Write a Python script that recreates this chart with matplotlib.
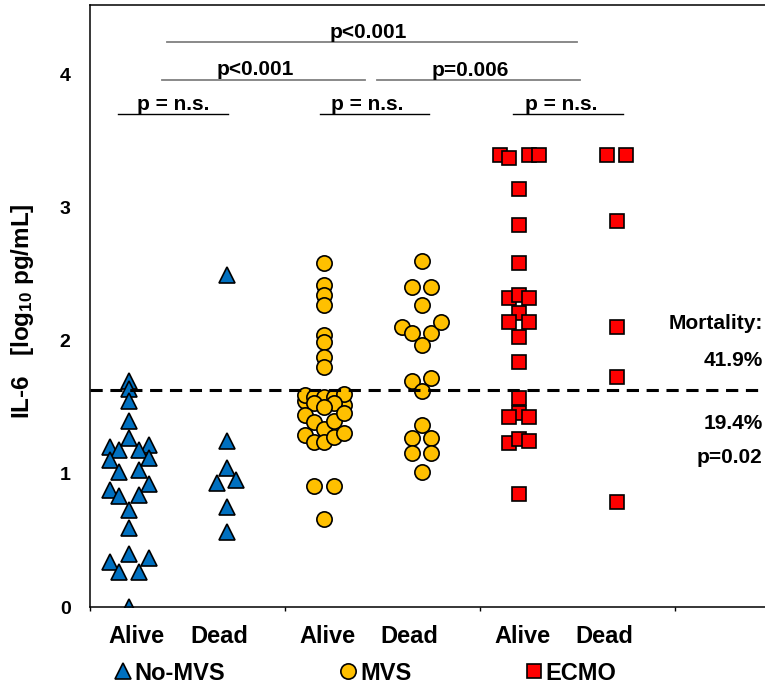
import matplotlib
matplotlib.use("Agg")
import matplotlib.pyplot as plt
from matplotlib.lines import Line2D
import numpy as np

plt.rcParams['font.family'] = ['Liberation Sans', 'DejaVu Sans']
plt.rcParams['font.weight'] = 'bold'
plt.rcParams['mathtext.fontset'] = 'custom'
plt.rcParams['mathtext.rm'] = 'Liberation Sans:bold'
plt.rcParams['mathtext.default'] = 'rm'

# IL-6 values (log10 pg/mL) and the horizontal spread of each point
nomvs_alive = [1.70, 1.64, 1.55, 1.40, 1.27, 1.20, 1.22, 1.18, 1.18, 1.10, 1.12,
               1.01, 1.03, 0.92, 0.88, 0.83, 0.84, 0.73, 0.59, 0.40, 0.34, 0.37,
               0.26, 0.26, 0.00]
nomvs_alive_dx = [0, 0, 0, 0, 0, -0.2, 0.2, -0.1, 0.1, -0.2, 0.2,
                  -0.1, 0.1, 0.2, -0.2, -0.1, 0.1, 0, 0, 0, -0.2, 0.2,
                  -0.1, 0.1, 0]
nomvs_dead = [2.49, 1.25, 1.04, 0.93, 0.95, 0.75, 0.56]
nomvs_dead_dx = [0, 0, 0, -0.1, 0.1, 0, 0]

mvs_alive = [2.58, 2.42, 2.34, 2.27, 2.04, 1.99, 1.88, 1.80,
             1.55, 1.52,
             1.59, 1.58, 1.58, 1.58, 1.60,
             1.53, 1.53, 1.50,
             1.44, 1.39, 1.34, 1.40, 1.46,
             1.29, 1.24, 1.24, 1.28, 1.31,
             0.91, 0.91, 0.66]
mvs_alive_dx = [0, 0, 0, 0, 0, 0, 0, 0,
                -0.2, 0.2,
                -0.2, -0.1, 0, 0.1, 0.2,
                -0.1, 0.1, 0,
                -0.2, -0.1, 0, 0.1, 0.2,
                -0.2, -0.1, 0, 0.1, 0.2,
                -0.1, 0.1, 0]
mvs_dead = [2.60, 2.40, 2.40, 2.27, 2.10, 2.06, 2.06, 2.14, 1.97,
            1.70, 1.72, 1.62, 1.37, 1.27, 1.27, 1.16, 1.16, 1.01]
mvs_dead_dx = [0, -0.1, 0.1, 0, -0.2, -0.1, 0.1, 0.2, 0,
               -0.1, 0.1, 0, 0, -0.1, 0.1, -0.1, 0.1, 0]

ecmo_alive = [3.39, 3.37, 3.39, 3.39, 3.14, 2.87, 2.58, 2.32, 2.34, 2.32,
              2.21, 2.14, 2.14, 2.03, 1.84, 1.57, 1.46, 1.43, 1.43,
              1.23, 1.26, 1.25, 0.85]
ecmo_alive_dx = [-0.2, -0.1, 0.1, 0.2, 0, 0, 0, -0.1, 0, 0.1,
                 0, -0.1, 0.1, 0, 0, 0, 0, -0.1, 0.1,
                 -0.1, 0, 0.1, 0]
ecmo_dead = [3.39, 3.39, 2.90, 2.10, 1.73, 0.79]
ecmo_dead_dx = [-0.1, 0.1, 0, 0, 0, 0]

groups = ['No-MVS', 'MVS', 'ECMO']
outcomes = ['Alive', 'Dead']
cut_off = 1.63

fig = plt.figure(figsize=(7.65, 6.85), dpi=100)
ax = fig.add_axes([90 / 765, 1 - 607 / 685, 690 / 765, 602 / 685])

series = [
    (nomvs_alive, nomvs_alive_dx, 0.4, '^', '#0070C0', 12),
    (nomvs_dead, nomvs_dead_dx, 1.4, '^', '#0070C0', 12),
    (mvs_alive, mvs_alive_dx, 2.4, 'o', '#FFC000', 11),
    (mvs_dead, mvs_dead_dx, 3.4, 'o', '#FFC000', 11),
    (ecmo_alive, ecmo_alive_dx, 4.4, 's', '#FF0000', 10.5),
    (ecmo_dead, ecmo_dead_dx, 5.4, 's', '#FF0000', 10.5),
]
for vals, dx, x0, mk, col, ms in series:
    xs = x0 + np.array(dx)
    ax.plot(xs, vals, linestyle='none', marker=mk, markersize=ms,
            markerfacecolor=col, markeredgecolor='black', markeredgewidth=1.2)

ax.axhline(cut_off, color='black', lw=2.2, dashes=(4, 2.5))

ax.set_xlim(0, 690 / 97.5)
ax.set_ylim(0, 4.52)

ax.spines['right'].set_visible(False)
for s in ['left', 'bottom', 'top']:
    ax.spines[s].set_linewidth(1.1)

ax.set_yticks([0, 1, 2, 3, 4])
ax.set_yticklabels(['0', '1', '2', '3', '4'], fontsize=14, fontweight='bold')
ax.tick_params(axis='y', length=0, pad=14)

ax.set_xticks([0, 2, 4, 6])
ax.set_xticklabels([])
ax.tick_params(axis='x', which='major', length=3, width=1, direction='out')
ax.set_xticks([0.48, 1.33, 2.44, 3.28, 4.44, 5.28], minor=True)
ax.set_xticklabels(outcomes * 3, minor=True, fontsize=17, fontweight='bold')
ax.tick_params(axis='x', which='minor', length=0, pad=13)

fig.text(23 / 765, 1 - 311 / 685, 'IL-6   [log$_{10}$ pg/mL]', rotation=90,
         ha='center', va='center', fontsize=17.5, fontweight='bold')

# significance brackets
brackets = [
    (0.79, 4.99, 4.24, 2.85, 'p<0.001', '#808080', 1.3),
    (0.74, 2.82, 3.96, 1.70, 'p<0.001', '#808080', 1.3),
    (2.94, 5.03, 3.955, 3.90, 'p=0.006', '#808080', 1.3),
    (0.29, 1.42, 3.70, 0.85, 'p = n.s.', 'black', 1.0),
    (2.36, 3.48, 3.70, 2.84, 'p = n.s.', 'black', 1.0),
    (4.34, 5.47, 3.70, 4.83, 'p = n.s.', 'black', 1.0),
]
for x1, x2, y, xt, label, col, lw in brackets:
    ax.plot([x1, x2], [y, y], color=col, lw=lw)
    ax.text(xt, y + 0.035, label, ha='center', va='baseline',
            fontsize=15, fontweight='bold')

ax.text(6.9, 2.13, 'Mortality:', ha='right', va='center', fontsize=15, fontweight='bold')
ax.text(6.9, 1.85, '41.9%', ha='right', va='center', fontsize=15, fontweight='bold')
ax.text(6.9, 1.38, '19.4%', ha='right', va='center', fontsize=15, fontweight='bold')
ax.text(6.9, 1.12, 'p=0.02', ha='right', va='center', fontsize=15, fontweight='bold')

handles = [
    Line2D([], [], linestyle='none', marker='^', markersize=12, markerfacecolor='#0070C0',
           markeredgecolor='black', markeredgewidth=1.2),
    Line2D([], [], linestyle='none', marker='o', markersize=11, markerfacecolor='#FFC000',
           markeredgecolor='black', markeredgewidth=1.2),
    Line2D([], [], linestyle='none', marker='s', markersize=10.5, markerfacecolor='#FF0000',
           markeredgecolor='black', markeredgewidth=1.2),
]
fig.legend(handles, groups, loc='center', bbox_to_anchor=(0.478, 1 - 673 / 685),
           ncol=3, frameon=False, numpoints=1, handlelength=0.7, handletextpad=0.15,
           columnspacing=4.85, prop={'size': 17, 'weight': 'bold'})

fig.savefig('out.png', dpi=100)
